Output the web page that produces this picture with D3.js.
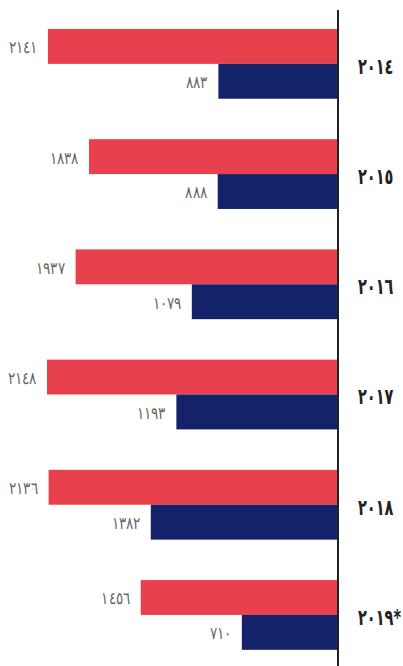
<!DOCTYPE html>
<html>
<head>
<meta charset="utf-8">
<script src="https://cdn.jsdelivr.net/npm/d3@7"></script>
<style>
  html, body { margin: 0; padding: 0; background: #fff; }
  svg { display: block; }
</style>
</head>
<body>
<svg id="chart" width="403" height="666"></svg>
<script>
// Years (category axis) and their labels in Arabic-Indic digits
const years = ["2014", "2015", "2016", "2017", "2018", "2019"];
const yearLabels = ["٢٠١٤", "٢٠١٥", "٢٠١٦", "٢٠١٧", "٢٠١٨", "٢٠١٩*"];
// Two series per year: upper (red) and lower (navy)
const seriesKeys = ["first", "second"];
const firstValues = [2141, 1838, 1937, 2148, 2136, 1456];
const secondValues = [883, 888, 1079, 1193, 1382, 710];
const seriesColors = ["#e8404d", "#142369"];

const toArabic = n => String(n).replace(/[0-9]/g, d => "٠١٢٣٤٥٦٧٨٩"[+d]);

const svg = d3.select("#chart");
const axisX = 338;
const valueSqueeze = 0.8; // horizontal condensing of the value digits
const yearSqueeze = 0.66; // horizontal condensing of the year digits

const rows = years.map((y, i) => ({
  year: y,
  label: yearLabels[i],
  values: [
    { key: seriesKeys[0], value: firstValues[i] },
    { key: seriesKeys[1], value: secondValues[i] }
  ]
}));

// Bars grow leftward from the axis line
const x = d3.scaleLinear().domain([0, 2148]).range([axisX, 47]);
const y0 = d3.scaleBand().domain(years).range([8.8, 670]).paddingInner(0.367).paddingOuter(0.183);
const y1 = d3.scaleBand().domain(seriesKeys).range([0, y0.bandwidth()]);
const color = d3.scaleOrdinal().domain(seriesKeys).range(seriesColors);

const groups = svg.append("g").selectAll("g")
  .data(rows).join("g")
  .attr("transform", d => `translate(0,${y0(d.year)})`);

groups.selectAll("rect")
  .data(d => d.values).join("rect")
  .attr("x", d => x(d.value))
  .attr("y", d => y1(d.key))
  .attr("width", d => axisX - x(d.value))
  .attr("height", y1.bandwidth())
  .attr("fill", d => color(d.key));

groups.selectAll("text.val")
  .data(d => d.values).join("text")
  .attr("class", "val")
  .attr("transform", d => `translate(${x(d.value) - 11},${y1(d.key) + y1.bandwidth() / 2 + 2}) scale(${valueSqueeze},1)`)
  .attr("text-anchor", "end")
  .attr("dominant-baseline", "middle")
  .attr("font-family", "'DejaVu Sans', sans-serif")
  .attr("font-weight", 300)
  .attr("font-size", 17)
  .attr("fill", "#666")
  .text(d => toArabic(d.value));

// Category axis on the right with year labels
const yAxis = d3.axisRight(y0).tickSize(0).tickPadding(20 / yearSqueeze).tickFormat((d, i) => yearLabels[i]);
const axisG = svg.append("g")
  .attr("transform", `translate(${axisX},0)`)
  .call(yAxis);
axisG.select(".domain").remove();
axisG.selectAll("text")
  .attr("transform", `scale(${yearSqueeze},1)`)
  .attr("dy", "0.45em")
  .attr("font-family", "'DejaVu Sans', sans-serif")
  .attr("font-weight", "bold")
  .attr("font-size", 22)
  .attr("fill", "#222");

svg.append("line")
  .attr("x1", axisX).attr("x2", axisX)
  .attr("y1", 10).attr("y2", 666)
  .attr("stroke", "#222")
  .attr("stroke-width", 2);
</script>
</body>
</html>
